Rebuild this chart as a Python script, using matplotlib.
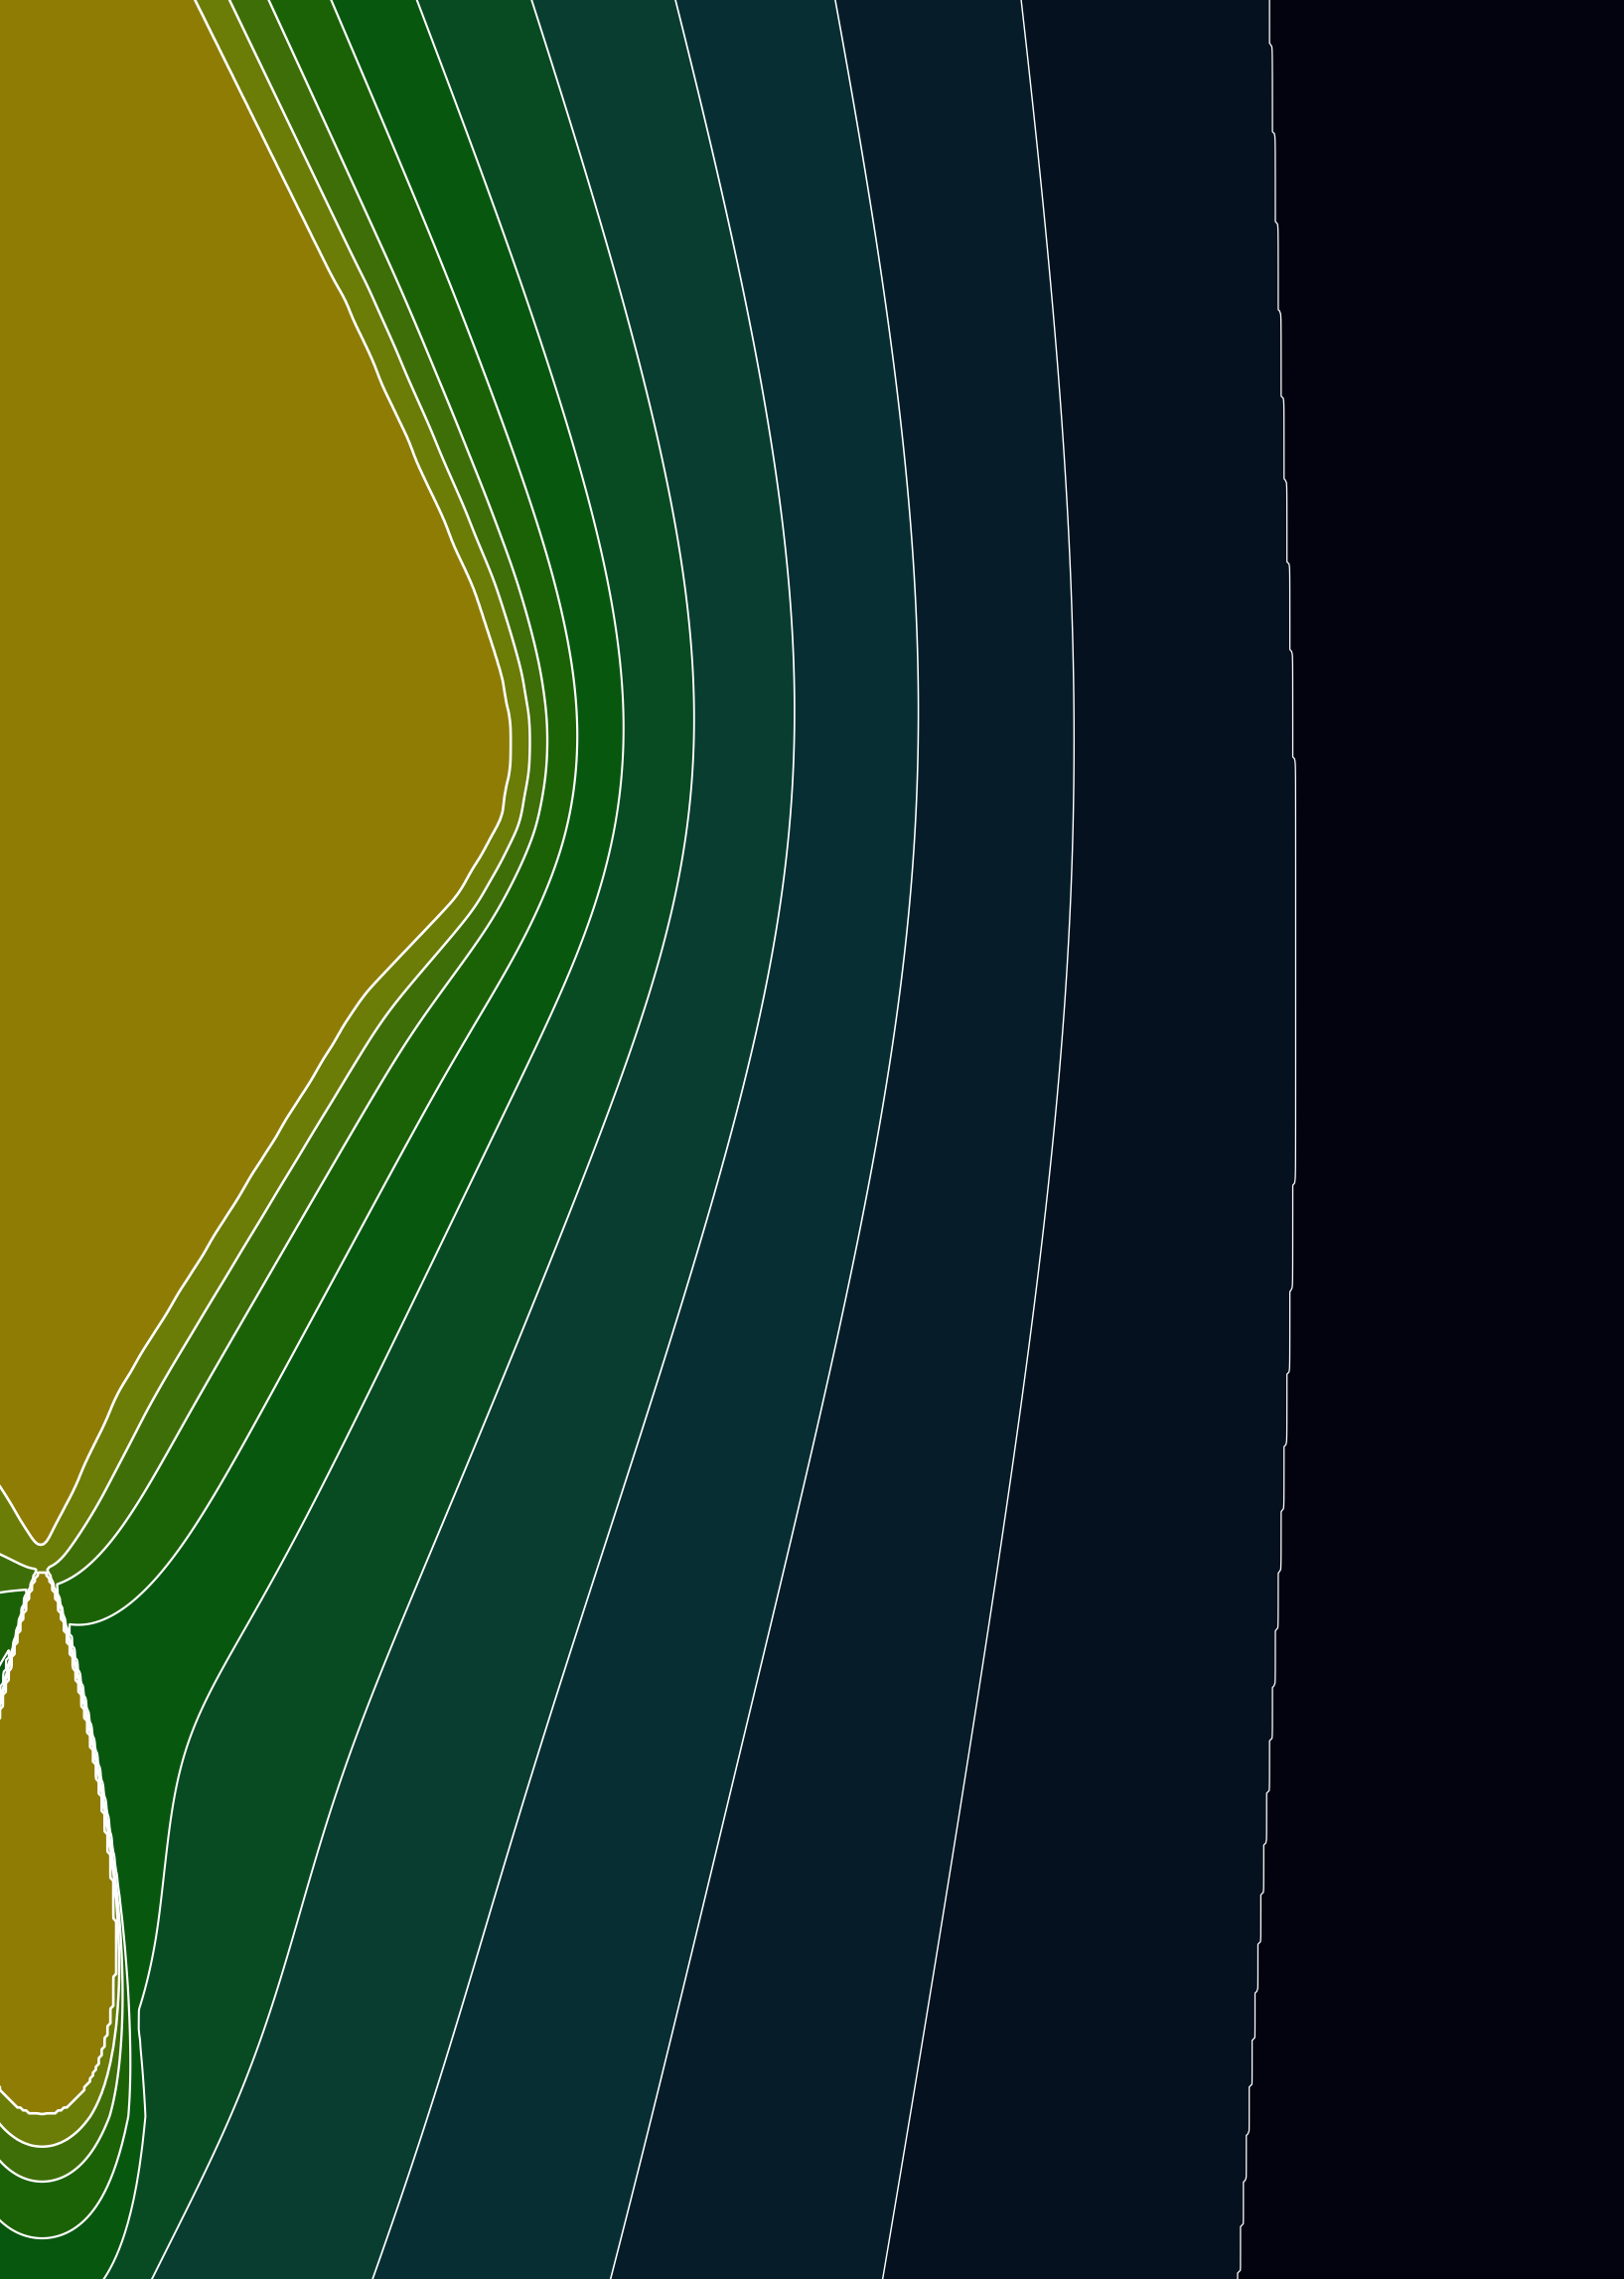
import numpy as np
import matplotlib
matplotlib.use('Agg')
import matplotlib.pyplot as plt
from matplotlib.path import Path

# view in pixels of the 1118 x 1568 picture, y pointing down
frame_w, frame_h = 1118, 1568

# outline of the upper high region (field held at 1 inside it)
ridge_x = [-920, -599, 135, 240, 333, 352, 359, 350, 320, 253, 83, 29, 0, -920]
ridge_y = [-1520, -1520, 0, 205, 410, 470, 515, 565, 615, 684, 957, 1080, 1010, -1212]

# second high region, off the lower left of the view
low_x = [-920, -160, -120, -300, -920]
low_y = [1250, 1250, 1260, 1568, 2663]
low_value = 1.0

# grounded side on the right: nearest at wall_y0, leaning away above and below
wall_x0, wall_y0, wall_tilt = 1120, 300, 0.1

# contour levels, highest first
phi_levels = [0.99752, 0.97961, 0.95602, 0.91766, 0.86357,
              0.78888, 0.69249, 0.58312, 0.45436, 0.28241]

# lower lobe: centre, radii, skew, side steepness, depth of each level under its rim
lobe_cx, lobe_cy, lobe_rx, lobe_ry, lobe_skew, lobe_wall = 29, 1268, 46, 188, 0.55, 9
lobe_depths = [0, 21, 45, 84, 137, 208, 297, 396, 511, 664]
lobe_core, lobe_core_value = 0.8, 0.90

band_colors = ['#02030f', '#05111f', '#061d29', '#072e33', '#083d30', '#084b22',
               '#08570f', '#1b6207', '#3e6e07', '#6b7c07', '#8e7c05']

dom_x0, dom_x1 = -920, 1440
dom_y0, dom_y1 = -1520, 3200

tt = np.linspace(-1, 1, 80)
core_w = lobe_rx * np.sqrt(1 - tt ** 2) * (1 + lobe_skew * tt) * lobe_core
core_y = lobe_cy + lobe_ry * lobe_core * tt
core_xy = np.concatenate([np.column_stack([lobe_cx + core_w, core_y]),
                          np.column_stack([lobe_cx - core_w, core_y])[::-1]])

regions = [(Path(np.column_stack([ridge_x, ridge_y])), 1.0),
           (Path(np.column_stack([low_x, low_y])), low_value),
           (Path(core_xy), lobe_core_value)]


def make_grid(h):
    xs = np.arange(dom_x0, dom_x1 + h / 2, h)
    ys = np.arange(dom_y0, dom_y1 + h / 2, h)
    X, Y = np.meshgrid(xs, ys)
    pts = np.column_stack([X.ravel(), Y.ravel()])
    fixed = np.zeros(X.shape, bool)
    value = np.zeros(X.shape)
    for path, v in regions:
        m = path.contains_points(pts).reshape(X.shape) & ~fixed
        fixed |= m
        value[m] = v
    wall = X >= wall_x0 + wall_tilt * np.abs(Y - wall_y0)
    wall[:, -1] = True
    fixed |= wall
    value[wall] = 0.0
    return xs, ys, fixed, value


def relax(phi, fixed, iters, omega):
    ii, jj = np.indices(phi.shape)
    masks = [((ii + jj) % 2 == k) & ~fixed for k in (0, 1)]
    for _ in range(iters):
        for m in masks:
            p = np.pad(phi, 1, mode='edge')
            nb = 0.25 * (p[:-2, 1:-1] + p[2:, 1:-1] + p[1:-1, :-2] + p[1:-1, 2:])
            phi[m] += omega * (nb[m] - phi[m])
    return phi


def resample(phi, xs_c, ys_c, xs_f, ys_f):
    tmp = np.array([np.interp(xs_f, xs_c, row) for row in phi])
    return np.array([np.interp(ys_f, ys_c, col) for col in tmp.T]).T


def blur(a, passes):
    for _ in range(passes):
        p = np.pad(a, 1, mode='edge')
        a = sum(p[i:i + a.shape[0], j:j + a.shape[1]] for i in range(3) for j in range(3)) / 9
    return a


# potential solved coarse to fine
phi = None
for h, iters, omega in [(40, 3000, 1.93), (20, 800, 1.9), (10, 500, 1.9), (5, 350, 1.9)]:
    xs, ys, fixed, value = make_grid(h)
    if phi is None:
        phi = np.full(fixed.shape, 0.5)
    else:
        phi = resample(phi, prev_xs, prev_ys, xs, ys)
    phi[fixed] = value[fixed]
    phi = relax(phi, fixed, iters, omega)
    prev_xs, prev_ys = xs, ys

phi = blur(phi, 2)

# fine grid over the view
fx = np.arange(-4, frame_w + 6, 2.0)
fy = np.arange(-4, frame_h + 6, 2.0)
FX, FY = np.meshgrid(fx, fy)
top = blur(resample(phi, xs, ys, fx, fy), 2)

# lower lobe expressed in the same levels
t = (FY - lobe_cy) / lobe_ry
rx_eff = lobe_rx * (1 + lobe_skew * np.clip(t, -1, 1))
rho = np.sqrt(((FX - lobe_cx) / rx_eff) ** 2 + t ** 2)
cos_down = np.clip(t / np.maximum(rho, 1e-6), 0, 1)
depth = (rho - 1) * lobe_ry * (1 + lobe_wall * (1 - cos_down) ** 2)
lobe = np.interp(depth, [-1000] + lobe_depths + [1e9], [1.0] + phi_levels + [0.0])

field = np.maximum(top, lobe)

levels = sorted(phi_levels)
fig = plt.figure(figsize=(16.35, 22.94), dpi=100)
ax = fig.add_axes([0, 0, 1, 1])
ax.contourf(FX, FY, field, levels=[-0.1] + levels + [1.1], colors=band_colors)
ax.contour(FX, FY, field, levels=levels, colors='white',
           linewidths=np.linspace(0.9, 1.9, len(levels)))
ax.set_xlim(0, frame_w)
ax.set_ylim(frame_h, 0)
ax.axis('off')
fig.savefig('out.png', dpi=100, facecolor='white')
